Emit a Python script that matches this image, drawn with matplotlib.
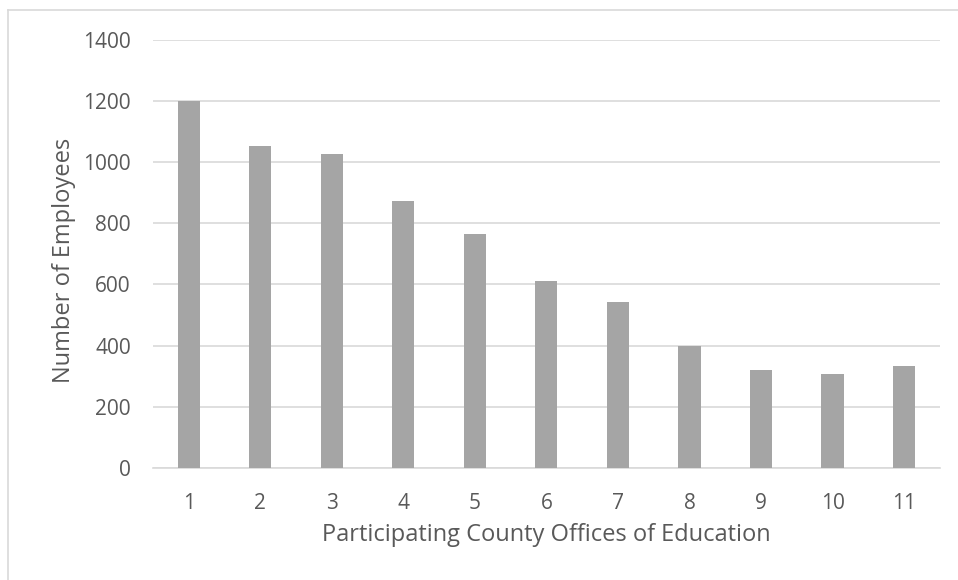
import matplotlib
matplotlib.use("Agg")
import matplotlib.pyplot as plt
from matplotlib.lines import Line2D

offices = ["1", "2", "3", "4", "5", "6", "7", "8", "9", "10", "11"]
employees = [1200, 1053, 1026, 873, 765, 612, 541, 400, 319, 307, 332]
y_ticks = [0, 200, 400, 600, 800, 1000, 1200, 1400]

TEXT = "#595959"
GRID = "#d9d9d9"
plt.rcParams["font.family"] = ["Open Sans", "DejaVu Sans"]

fig = plt.figure(figsize=(9.58, 5.8), dpi=100)
ax = fig.add_axes([0.1597, 0.1936, 0.8213, 0.7374])

x = list(range(len(offices)))
ax.bar(x, employees, width=0.31, color="#a5a5a5", zorder=3)

ax.set_xlim(-0.5, len(offices) - 0.5)
ax.set_ylim(0, 1400)
ax.set_yticks(y_ticks)
ax.set_xticks(x)
ax.set_xticklabels(offices)
ax.grid(axis="y", color=GRID, linewidth=1.2, zorder=0)
for side in ("top", "right", "left"):
    ax.spines[side].set_visible(False)
ax.spines["bottom"].set_color(GRID)
ax.spines["bottom"].set_linewidth(1.2)
ax.tick_params(length=0, colors=TEXT, labelsize=15)
ax.tick_params(axis="x", pad=18)
ax.tick_params(axis="y", pad=16)

ax.set_xlabel("Participating County Offices of Education", fontsize=17, color=TEXT, labelpad=7)
ax.set_ylabel("Number of Employees", fontsize=17, color=TEXT)
ax.yaxis.set_label_coords(-0.098, 0.485)

# chart frame: only the top and left edges fall inside the picture
fig.add_artist(Line2D([0.00835, 1.0], [0.9828, 0.9828], transform=fig.transFigure,
                      color=GRID, linewidth=1.2))
fig.add_artist(Line2D([0.00835, 0.00835], [0.0, 0.9828], transform=fig.transFigure,
                      color=GRID, linewidth=1.2))

fig.savefig("out.png", dpi=100)
